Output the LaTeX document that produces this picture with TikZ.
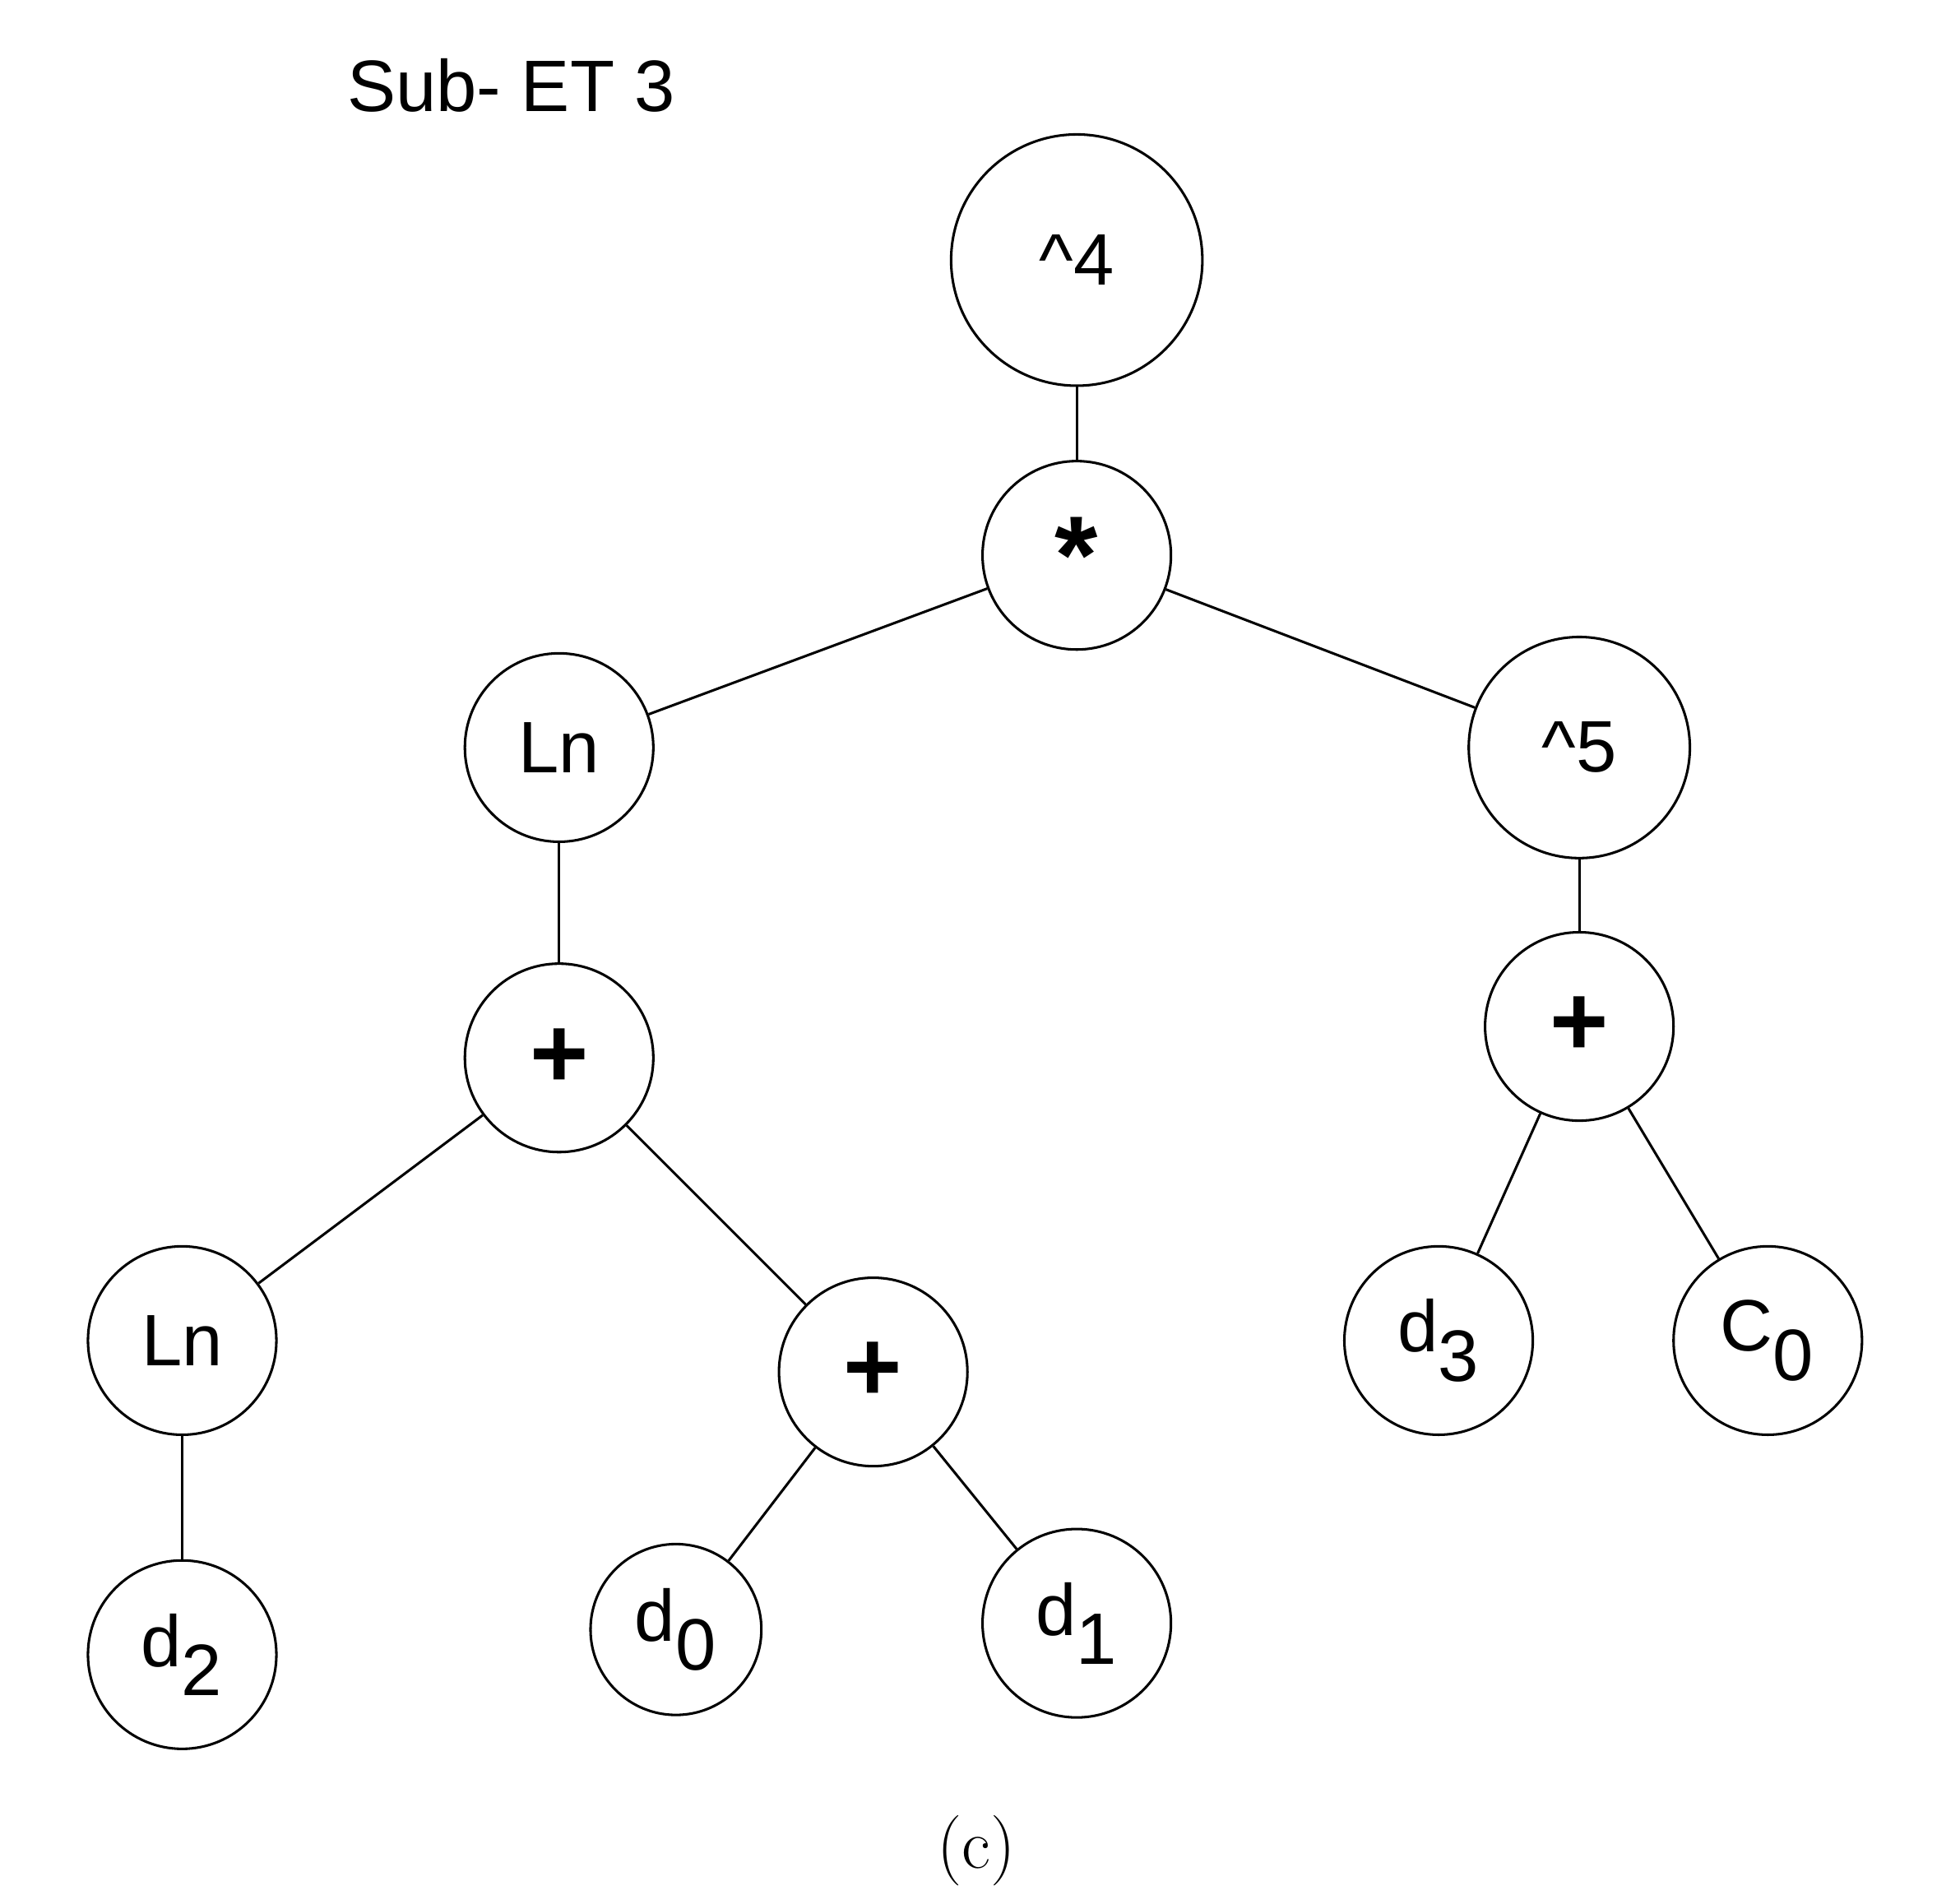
\documentclass[tikz,border=0pt]{standalone}
\usepackage{fontspec}
\setsansfont{Liberation Sans}
\begin{document}
\begin{tikzpicture}[x=0.5pt,y=-0.5pt,
  nd/.style={circle,draw,line width=1pt,inner sep=0pt,font=\sffamily\fontsize{29}{30}\selectfont},
  r75/.style={nd,minimum size=75pt},
  ed/.style={line width=1pt}]
\useasboundingbox (0,0) rectangle (1560,1515);
\node[font=\sffamily\fontsize{29}{30}\selectfont] (title) at (407,68) {Sub- ET 3};
\node[nd,minimum size=100pt] (p4) at (857,207) {\^{}4};
\node[r75] (m) at (857,442) {\fontsize{44}{44}\selectfont\textbf{*}};
\node[r75] (ln1) at (445,595) {Ln};
\node[nd,minimum size=88pt] (p5) at (1257,595) {\^{}5};
\node[r75] (a1) at (445,842) {\fontsize{40}{40}\selectfont\textbf{+}};
\node[r75] (ar) at (1257,817) {\fontsize{40}{40}\selectfont\textbf{+}};
\node[r75] (ln2) at (145,1067) {Ln};
\node[r75] (a2) at (695,1092) {\fontsize{40}{40}\selectfont\textbf{+}};
\node[r75] (d3) at (1145,1067) {d$_{\textsf{3}}$};
\node[r75] (c0) at (1407,1067) {C$_{\textsf{0}}$};
\node[r75] (d2) at (145,1317) {d$_{\textsf{2}}$};
\node[nd,minimum size=68pt] (d0) at (538,1297) {d$_{\textsf{0}}$};
\node[r75] (d1) at (857,1292) {d$_{\textsf{1}}$};
\node[font=\fontsize{28}{30}\selectfont] (cap) at (777,1473) {(c)};
\draw[ed] (p4)--(m); \draw[ed] (m)--(ln1); \draw[ed] (m)--(p5);
\draw[ed] (ln1)--(a1); \draw[ed] (p5)--(ar);
\draw[ed] (a1)--(ln2); \draw[ed] (a1)--(a2);
\draw[ed] (ln2)--(d2); \draw[ed] (a2)--(d0); \draw[ed] (a2)--(d1);
\draw[ed] (ar)--(d3); \draw[ed] (ar)--(c0);
\end{tikzpicture}
\end{document}
